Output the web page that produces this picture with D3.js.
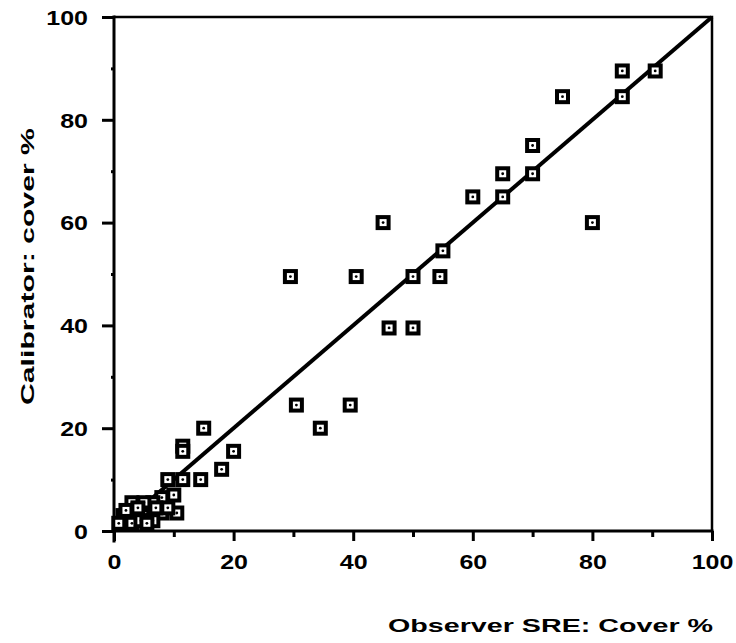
<!DOCTYPE html>
<html>
<head>
<meta charset="utf-8">
<script src="https://cdn.jsdelivr.net/npm/d3@7"></script>
<style>
  body { margin: 0; background: #fff; }
  text { font-family: "Liberation Sans", Arial, Helvetica, sans-serif; font-weight: bold; fill: #000; }
</style>
</head>
<body>
<svg id="chart" width="736" height="643"></svg>
<script>
// Cover estimates (%) per plot: observer SRE vs calibrator
const observer = [
  85, 90.5, 85, 75, 70, 65, 70, 65, 60, 80,
  55, 54.5, 50, 45, 40.5, 29.5, 46, 50, 30.5, 39.5,
  34.5, 15, 11.5, 11.5, 20, 18, 14.5, 11.5, 9,
  10, 10.5, 8, 6.5, 5, 3, 8, 6, 4.8, 3.2,
  1.5, 0.8, 3, 4.5, 6.5, 9, 2, 4, 7, 5.5
];
const calibrator = [
  89.5, 89.5, 84.5, 84.5, 75, 69.5, 69.5, 65, 65, 60,
  54.5, 49.5, 49.5, 60, 49.5, 49.5, 39.5, 39.5, 24.5, 24.5,
  20, 20, 16.5, 15.5, 15.5, 12, 10, 10, 10,
  7, 3.5, 6.5, 5.5, 5.5, 5.5, 3.5, 3.5, 3, 3,
  3, 1.5, 1.5, 2, 2, 4.5, 4, 4.5, 4.5, 1.5
];
const majorTicks = [0, 20, 40, 60, 80, 100];
const minorTicks = [10, 30, 50, 70, 90];
const lineOfEquality = [[0, 0], [100, 100]];
const xTitle = "Observer SRE: Cover %";
const yTitle = "Calibrator: cover %";

const svg = d3.select("#chart");
const x = d3.scaleLinear().domain([0, 100]).range([114, 712]);
const y = d3.scaleLinear().domain([0, 100]).range([531, 17]);

// Stretch bold text horizontally to the wide lettering of the figure
function widen(sel, k) {
  sel.each(function () {
    const L = this.getComputedTextLength();
    d3.select(this).attr("textLength", L * k).attr("lengthAdjust", "spacingAndGlyphs");
  });
}

// Frame (top and right edges)
svg.append("path")
  .attr("d", `M${x(0)},${y(100)}H${x(100)}V${y(0)}`)
  .attr("fill", "none").attr("stroke", "#000").attr("stroke-width", 2.5);

// Bottom axis: major and minor ticks
const gx = svg.append("g").attr("transform", `translate(0,${y(0)})`);
gx.call(d3.axisBottom(x).tickValues(majorTicks).tickSize(10).tickPadding(14).tickFormat(d3.format("d")));
const gxm = svg.append("g").attr("transform", `translate(0,${y(0)})`);
gxm.call(d3.axisBottom(x).tickValues(minorTicks).tickSize(6).tickFormat(""));

// Left axis: major and minor ticks
const gy = svg.append("g").attr("transform", `translate(${x(0)},0)`);
gy.call(d3.axisLeft(y).tickValues(majorTicks).tickSize(12).tickPadding(14).tickFormat(d3.format("d")));
const gym = svg.append("g").attr("transform", `translate(${x(0)},0)`);
gym.call(d3.axisLeft(y).tickValues(minorTicks).tickSize(3).tickFormat(""));

[gx, gxm, gy, gym].forEach(g => {
  g.select(".domain").attr("stroke", "#000").attr("stroke-width", 3);
  g.selectAll(".tick line").attr("stroke", "#000").attr("stroke-width", 3);
});
svg.selectAll(".domain").attr("stroke-linecap", "square");
gx.select(".domain").attr("d", `M${x(0)},0H${x(100)}`);
gxm.select(".domain").remove();
gy.select(".domain").attr("d", `M0,${y(0) + 10}V${y(100)}`);
gym.select(".domain").remove();

gx.attr("font-family", null); gy.attr("font-family", null);
gx.selectAll(".tick text").style("font-size", "20px");
gy.selectAll(".tick text").style("font-size", "20px").attr("dy", "0.36em");
widen(gx.selectAll(".tick text"), 1.25);
widen(gy.selectAll(".tick text"), 1.25);

// 1:1 line
svg.append("path")
  .datum(lineOfEquality)
  .attr("d", d3.line().x(d => x(d[0])).y(d => y(d[1])))
  .attr("stroke", "#000").attr("stroke-width", 4).attr("fill", "none");

// Plot markers: heavy open squares with a central dot
const pts = observer.map((v, i) => ({ o: v, c: calibrator[i] }));
const mk = svg.append("g").selectAll("g").data(pts).join("g")
  .attr("transform", d => `translate(${x(d.o)},${y(d.c)})`);
mk.append("rect")
  .attr("x", -5.5).attr("y", -5.5).attr("width", 11).attr("height", 11)
  .attr("fill", "#fff").attr("stroke", "#000").attr("stroke-width", 4);
mk.append("circle").attr("r", 1.4).attr("fill", "#000");

// Axis titles
svg.append("text")
  .attr("x", 388).attr("y", 632)
  .style("font-size", "19px")
  .attr("textLength", 325).attr("lengthAdjust", "spacingAndGlyphs")
  .text(xTitle);

svg.append("text")
  .attr("transform", `translate(34,405) rotate(-90)`)
  .style("font-size", "19px")
  .attr("textLength", 277).attr("lengthAdjust", "spacingAndGlyphs")
  .text(yTitle);
</script>
</body>
</html>
